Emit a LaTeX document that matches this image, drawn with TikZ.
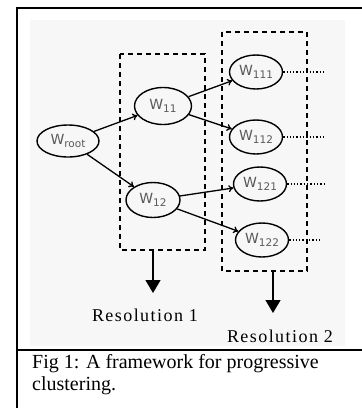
\documentclass[tikz,border=0pt]{standalone}
\usepackage{fontspec}
\setmainfont{Liberation Serif}
\newfontfamily\nodefont{DejaVu Sans}
\usetikzlibrary{arrows.meta,positioning,shapes.geometric}

\definecolor{paper}{HTML}{F7F7F7}
\definecolor{ink}{HTML}{5A5A5A}

\newcommand{\wlab}[1]{{\nodefont\fontsize{14}{14}\selectfont W\raisebox{-3.5pt}{\fontsize{10.5}{10.5}\selectfont #1}}}

\tikzstyle{cluster} = [ellipse, draw, line width=1.4pt, inner sep=0pt, minimum width=53pt, minimum height=34pt, text=ink]
\tikzstyle{level} = [draw, line width=1.3pt, dash pattern=on 5pt off 4pt]
\tikzstyle{link} = [line width=1.3pt, -{To[length=5pt,width=7pt]}]
\tikzstyle{more} = [line width=1.3pt, dotted]
\tikzstyle{down} = [line width=1.4pt, -{Triangle[length=13pt,width=15pt]}]
\tikzstyle{res} = [font=\fontsize{18}{18}\selectfont\addfontfeatures{LetterSpace=8}]

\begin{document}
\begin{tikzpicture}[x=1pt, y=-1pt]
\useasboundingbox (0,0) rectangle (362,408);
\fill[paper] (30,20) rectangle (345,346);
% frame
\draw[line width=2.5pt] (17,408) -- (17,8) -- (362,8);
\draw[line width=2pt] (17,350) -- (362,350);

% resolution boxes
\draw[level] (120,54) rectangle (205,250);
\draw[level] (222,32) rectangle (307,271);

% clusters
\node[cluster, minimum width=62pt, minimum height=32pt] (root) at (68,141) {\wlab{root}};
\node[cluster, minimum width=57pt, minimum height=37pt] (w11) at (163,106) {\wlab{11}};
\node[cluster, minimum width=54pt, minimum height=35pt] (w12) at (153,200) {\wlab{12}};
\node[cluster] (w111) at (256,72) {\wlab{111}};
\node[cluster] (w112) at (256,137) {\wlab{112}};
\node[cluster] (w121) at (260,184) {\wlab{121}};
\node[cluster] (w122) at (262,240) {\wlab{122}};

\draw[link] (root) -- (w11);
\draw[link] (root) -- (w12);
\draw[link] (w11) -- (w111);
\draw[link] (w11) -- (w112);
\draw[link] (w12) -- (w121);
\draw[link] (w12) -- (w122);

% open ends
\coordinate (e111) at (325,72);
\coordinate (e112) at (325,137);
\coordinate (e121) at (325,184);
\coordinate (e122) at (322,240);
\draw[more] (w111.east) -- (e111);
\draw[more] (w112.east) -- (e112);
\draw[more] (w121.east) -- (e121);
\draw[more] (w122.east) -- (e122);

% resolutions
\coordinate (b1) at (153,250);
\coordinate (b2) at (273,271);
\node[res] (r1) at (145,315) {Resolution 1};
\node[res] (r2) at (280,336) {Resolution 2};
\draw[down] (b1) -- ++(0,43);
\draw[down] (b2) -- ++(0,42);

% caption
\node[anchor=north west, align=left, font=\fontsize{20}{22}\selectfont, inner sep=0pt] (cap) at (32,354)
  {Fig 1: A framework for progressive\\clustering.};
\end{tikzpicture}
\end{document}
